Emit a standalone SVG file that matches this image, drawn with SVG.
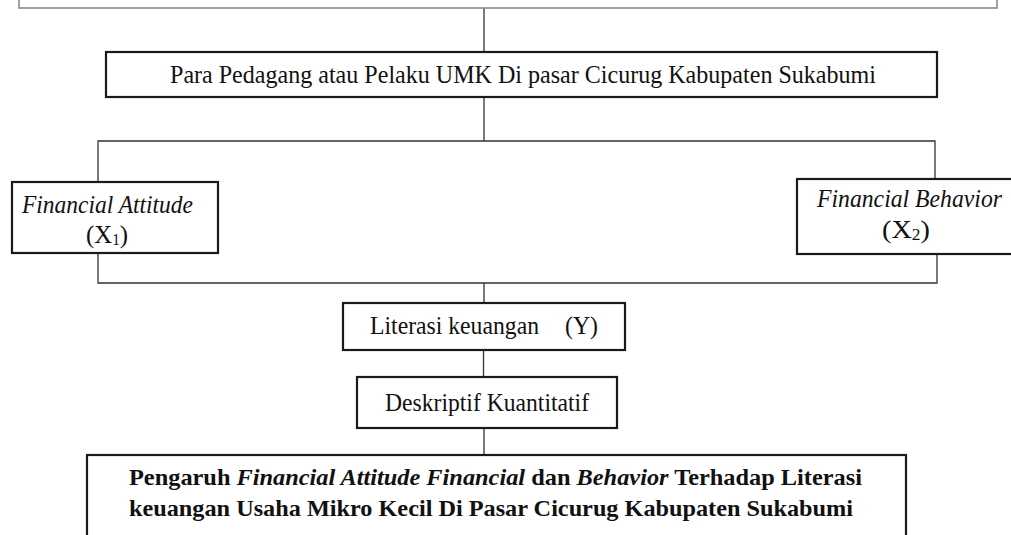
<svg xmlns="http://www.w3.org/2000/svg" width="1011" height="535" viewBox="0 0 1011 535">
<style>
.box{fill:#fff;stroke:#1a1a1a;stroke-width:2.2}
.topbox{fill:#fff;stroke:#8a8a8a;stroke-width:1.6}
.ln{fill:none;stroke:#333;stroke-width:1.3}
text{font-family:"Liberation Serif","Times New Roman",serif;font-size:26px;fill:#111}
.it{font-style:italic}
.b{font-weight:bold;font-size:24px}
</style>
<rect width="1011" height="535" fill="#fff"/>
<g id="connectors">
<line class="ln" x1="484" y1="8" x2="484" y2="52"/>
<line class="ln" x1="484" y1="97" x2="484" y2="141"/>
<polyline class="ln" points="98,182 98,141 935,141 935,179"/>
<polyline class="ln" points="98,253 98,283 937,283 937,254"/>
<line class="ln" x1="484" y1="283" x2="484" y2="303"/>
<line class="ln" x1="483.5" y1="350" x2="483.5" y2="377"/>
<line class="ln" x1="484" y1="428" x2="484" y2="455"/>
</g>
<g id="node-top">
<rect class="topbox" x="19" y="-20" width="978" height="28"/>
</g>
<g id="node-pedagang">
<rect class="box" x="106" y="52" width="831" height="45"/>
<text x="170" y="83" textLength="706" lengthAdjust="spacingAndGlyphs">Para Pedagang atau Pelaku UMK Di pasar Cicurug Kabupaten Sukabumi</text>
</g>
<g id="node-x1">
<rect class="box" x="12" y="182" width="206" height="71"/>
<text class="it" x="22" y="213" textLength="171" lengthAdjust="spacingAndGlyphs">Financial Attitude</text>
<text x="86" y="243" textLength="42" lengthAdjust="spacingAndGlyphs">(X<tspan font-size="16" dy="2">1</tspan><tspan dy="-2">)</tspan></text>
</g>
<g id="node-x2">
<rect class="box" x="797" y="179" width="230" height="75"/>
<text class="it" x="817" y="207" textLength="185" lengthAdjust="spacingAndGlyphs">Financial Behavior</text>
<text x="882" y="238" textLength="48" lengthAdjust="spacingAndGlyphs">(X<tspan font-size="16" dy="2">2</tspan><tspan dy="-2">)</tspan></text>
</g>
<g id="node-y">
<rect class="box" x="343" y="303" width="282" height="47"/>
<text x="370" y="334" textLength="169" lengthAdjust="spacingAndGlyphs">Literasi keuangan</text>
<text x="565" y="334" textLength="33" lengthAdjust="spacingAndGlyphs">(Y)</text>
</g>
<g id="node-deskriptif">
<rect class="box" x="357" y="377" width="260" height="51"/>
<text x="385" y="411" textLength="204" lengthAdjust="spacingAndGlyphs">Deskriptif Kuantitatif</text>
</g>
<g id="node-judul">
<rect class="box" x="87" y="455" width="819" height="100"/>
<text class="b" x="129" y="485" textLength="733" lengthAdjust="spacingAndGlyphs">Pengaruh <tspan class="it">Financial Attitude Financial</tspan> dan <tspan class="it">Behavior</tspan> Terhadap Literasi</text>
<text class="b" x="129" y="516" textLength="724" lengthAdjust="spacingAndGlyphs">keuangan Usaha Mikro Kecil Di Pasar Cicurug Kabupaten Sukabumi</text>
</g>
</svg>
